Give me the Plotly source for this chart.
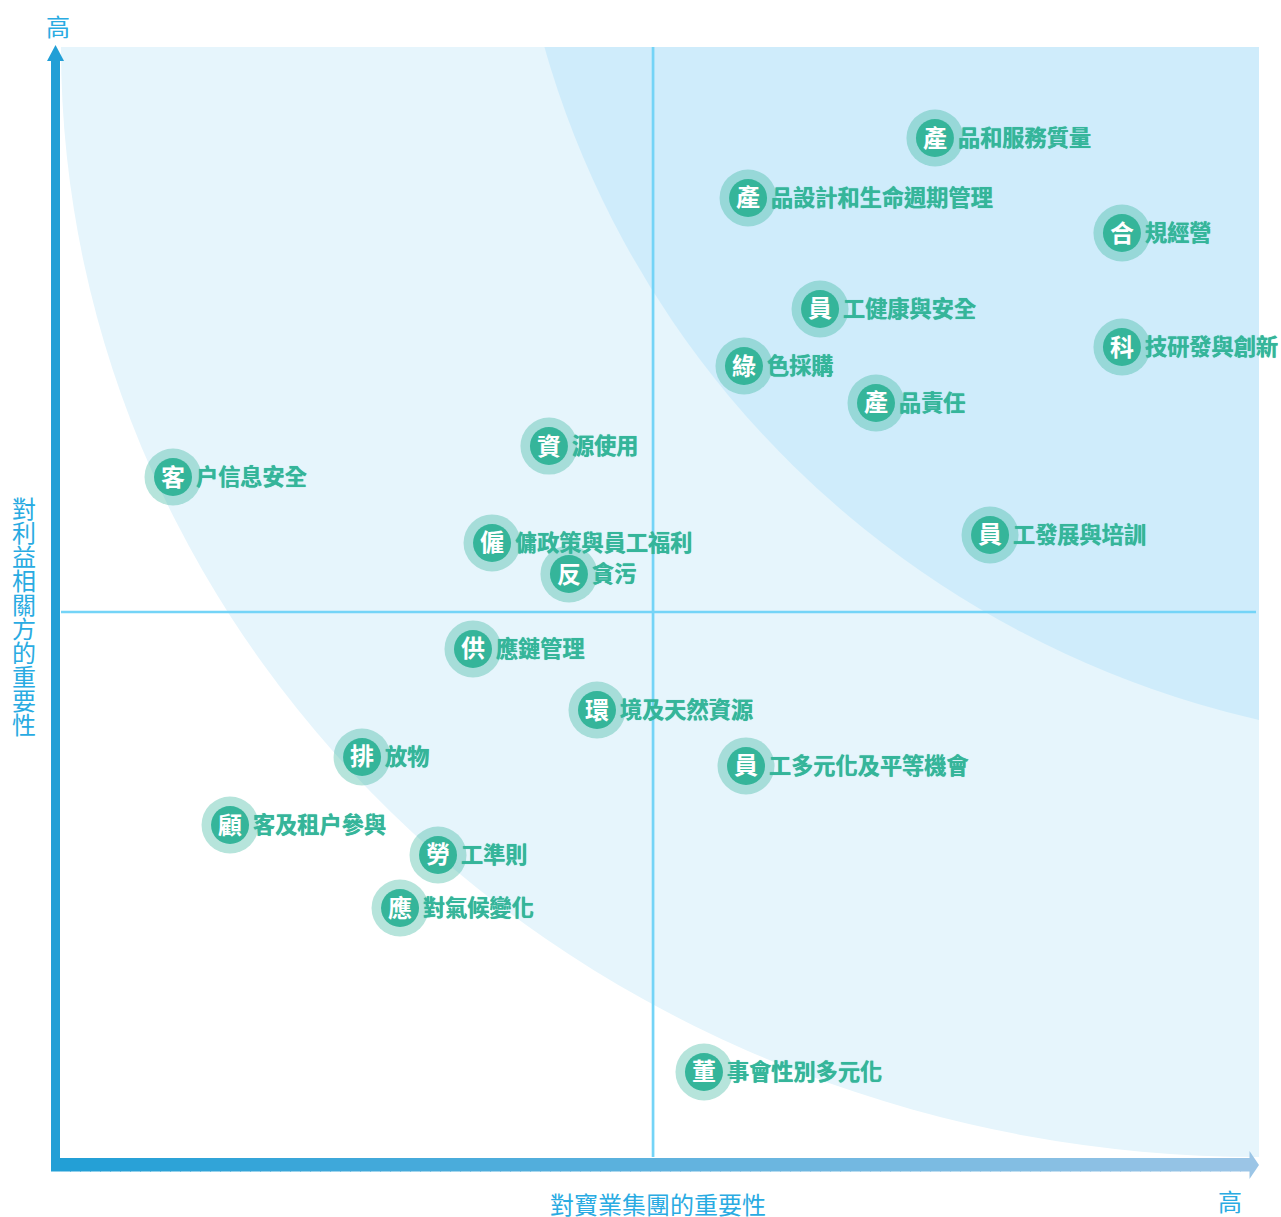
import plotly.graph_objects as go

# Topic names (first character sits inside the badge)
topics = ["產品和服務質量", "產品設計和生命週期管理", "合規經營", "員工健康與安全", "科技研發與創新",
          "綠色採購", "產品責任", "資源使用", "客户信息安全", "僱傭政策與員工福利",
          "反貪污", "員工發展與培訓", "供應鏈管理", "環境及天然資源", "排放物",
          "員工多元化及平等機會", "顧客及租户參與", "勞工準則", "應對氣候變化", "董事會性別多元化"]
# Importance to the group's business (0-100)
group_importance = [72.95, 57.35, 88.56, 63.36, 88.56, 57.01, 68.03, 40.73, 9.35, 35.98,
                    42.40, 77.55, 34.39, 44.74, 25.13, 57.18, 14.11, 31.47, 28.30, 53.67]
# Importance to stakeholders (0-100)
stakeholder_importance = [91.80, 86.40, 83.24, 76.40, 72.97, 71.26, 67.93, 64.05, 61.26, 55.32,
                          52.52, 56.04, 45.77, 40.27, 36.04, 35.23, 29.91, 27.21, 22.43, 7.66]
mid_x = 49.42
mid_y = 49.10
x_title = "對寶業集團的重要性"
y_title = "對利益相關方的重要性"
high_label = "高"

W, H = 1281, 1217
L, R, T, B = 61, 1259, 47, 1157
FONT = "Noto Sans CJK TC"
TEAL = "#35B59A"
SKY = "#29ABE2"
LINE = "#74D4F7"


def xp(px):
    return (px - L) / (R - L)


def yp(py):
    return (B - py) / (B - T)


shapes = [
    dict(type="circle", xref="x", yref="y", x0=0, x1=200, y0=0, y1=200,
         fillcolor="#E6F5FC", line_width=0, layer="below"),
    dict(type="circle", xref="x", yref="y", x0=37.40, x1=199.5, y0=37.11, y1=208.83,
         fillcolor="#CFECFB", line_width=0, layer="below"),
    dict(type="line", xref="x", yref="y", x0=mid_x, x1=mid_x, y0=0, y1=100,
         line=dict(color=LINE, width=2.7), layer="below"),
    dict(type="line", xref="x", yref="y", x0=0, x1=99.75, y0=mid_y, y1=mid_y,
         line=dict(color=LINE, width=2.7), layer="below"),
    # vertical axis arrow
    dict(type="rect", xref="paper", yref="paper", x0=xp(51), x1=xp(60), y0=yp(1171.5), y1=yp(60),
         fillcolor="#229FD6", line_width=0),
    dict(type="path", xref="paper", yref="paper",
         path=f"M {xp(47)} {yp(61)} L {xp(55.5)} {yp(45)} L {xp(64)} {yp(61)} Z",
         fillcolor="#229FD6", line_width=0),
]

# horizontal axis arrow with a left-to-right colour fade
start, end = (0x22, 0x9F, 0xD6), (0x9B, 0xC5, 0xE6)
n = 119
x_a, step = 60, 10
for i in range(n):
    t = i / (n - 1)
    c = tuple(round(s + (e - s) * t) for s, e in zip(start, end))
    shapes.append(dict(type="rect", xref="paper", yref="paper",
                       x0=xp(x_a + step * i), x1=xp(x_a + step * (i + 1) + (1 if i < n - 1 else 0)),
                       y0=yp(1171.5), y1=yp(1158),
                       fillcolor="rgb(%d,%d,%d)" % c, line_width=0))
shapes.append(dict(type="path", xref="paper", yref="paper",
                   path=f"M {xp(1249.5)} {yp(1151)} L {xp(1259)} {yp(1165)} L {xp(1249.5)} {yp(1179)} Z",
                   fillcolor="#9BC5E6", line_width=0))

fig = go.Figure()
fig.add_trace(go.Scatter(x=group_importance, y=stakeholder_importance, mode="markers",
                         marker=dict(size=57, color="rgba(53,181,154,0.36)", line_width=0),
                         hoverinfo="skip", cliponaxis=False))
fig.add_trace(go.Scatter(x=group_importance, y=stakeholder_importance, mode="markers",
                         marker=dict(size=38, color=TEAL, line_width=0),
                         hoverinfo="skip", cliponaxis=False))

annotations = []
for name, gx, gy in zip(topics, group_importance, stakeholder_importance):
    annotations.append(dict(x=gx, y=gy, xref="x", yref="y", text=name[0], showarrow=False,
                            xanchor="center", yanchor="middle", yshift=2,
                            font=dict(family=FONT, size=24, color="white", weight=700)))
    annotations.append(dict(x=gx, y=gy, xref="x", yref="y", text=name[1:], showarrow=False,
                            xanchor="left", yanchor="middle", xshift=21, yshift=2,
                            font=dict(family=FONT, size=22.2, color=TEAL, weight=700,
                                      shadow="0 0 0.7px " + TEAL)))


def sky_text(text, px, py):
    return dict(x=xp(px), y=yp(py), xref="paper", yref="paper", text=text, showarrow=False,
                xanchor="center", yanchor="middle",
                font=dict(family=FONT, size=24, color=SKY))


for i, ch in enumerate(y_title):
    annotations.append(sky_text(ch, 24, 507 + 24 * i))
annotations.append(sky_text(x_title, 658, 1203))
annotations.append(sky_text(high_label, 58, 26))
annotations.append(sky_text(high_label, 1230, 1200))

fig.update_layout(
    width=W, height=H, margin=dict(l=L, r=W - R, t=T, b=H - B, pad=0, autoexpand=False),
    paper_bgcolor="white", plot_bgcolor="white", showlegend=False,
    xaxis=dict(range=[0, 100], visible=False, fixedrange=True),
    yaxis=dict(range=[0, 100], visible=False, fixedrange=True),
    shapes=shapes, annotations=annotations,
    font=dict(family=FONT),
)

fig.write_html("out.html", config=dict(displayModeBar=False, responsive=False),
               post_script="document.body.style.margin='0';document.body.style.overflow='hidden';")
